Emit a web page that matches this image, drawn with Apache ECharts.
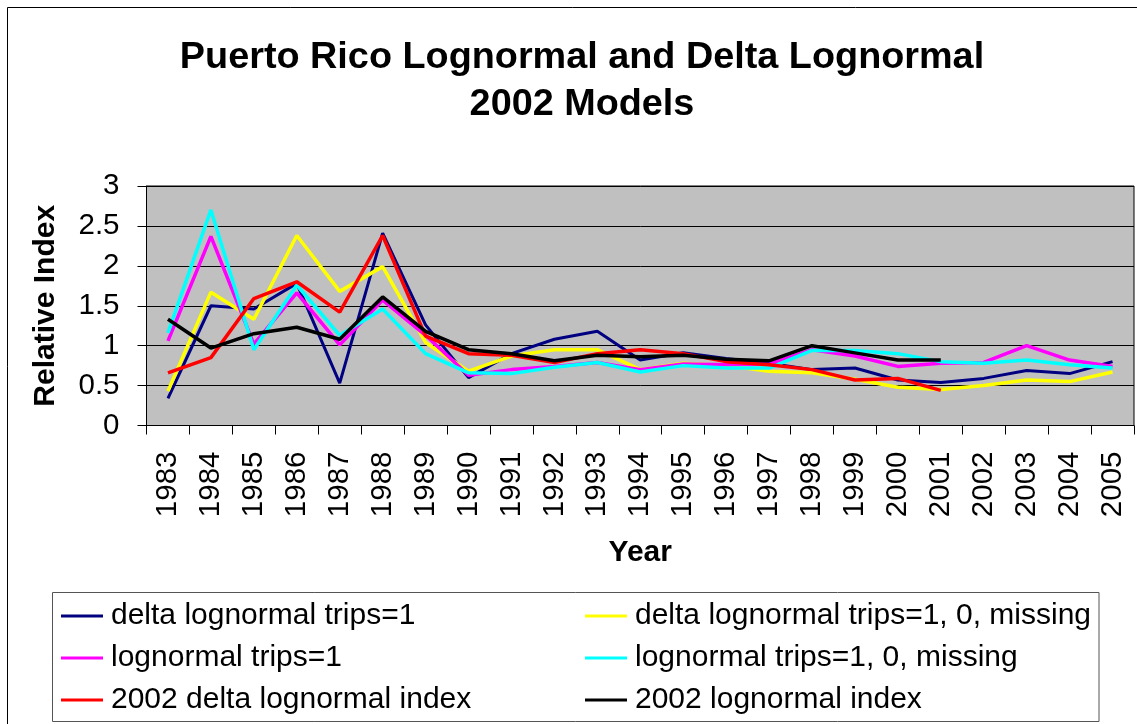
<!DOCTYPE html>
<html>
<head>
<meta charset="utf-8">
<script src="https://cdn.jsdelivr.net/npm/echarts@6/dist/echarts.min.js"></script>
<style>
html,body{margin:0;padding:0;background:#fff;}
#chart{width:1137px;height:724px;}
</style>
</head>
<body>
<div id="chart"></div>
<script>
var years = ['1983','1984','1985','1986','1987','1988','1989','1990','1991','1992','1993','1994','1995','1996','1997','1998','1999','2000','2001','2002','2003','2004','2005'];
var yTicks = [0, 0.5, 1, 1.5, 2, 2.5, 3];

var deltaTrips1 = [0.34,1.50,1.46,1.78,0.53,2.41,1.26,0.60,0.90,1.08,1.18,0.82,0.91,0.84,0.78,0.70,0.72,0.57,0.54,0.59,0.69,0.65,0.80];
var deltaTripsAll = [0.43,1.67,1.33,2.38,1.68,1.99,1.04,0.68,0.87,0.95,0.95,0.70,0.78,0.75,0.68,0.66,0.58,0.48,0.45,0.50,0.57,0.55,0.67];
var lognTrips1 = [1.06,2.37,1.02,1.66,1.01,1.57,1.13,0.63,0.70,0.74,0.79,0.70,0.77,0.76,0.77,0.95,0.87,0.74,0.78,0.79,1.00,0.82,0.74];
var lognTripsAll = [1.16,2.70,0.95,1.76,1.13,1.46,0.90,0.66,0.65,0.73,0.79,0.67,0.75,0.72,0.72,0.94,0.94,0.90,0.80,0.78,0.82,0.76,0.72];
var delta2002 = [0.66,0.85,1.59,1.80,1.42,2.38,1.12,0.90,0.88,0.79,0.90,0.95,0.90,0.80,0.76,0.70,0.57,0.59,0.44,null,null,null,null];
var logn2002 = [1.33,0.97,1.15,1.23,1.08,1.61,1.18,0.95,0.90,0.81,0.88,0.86,0.88,0.83,0.81,1.00,0.91,0.82,0.82,null,null,null,null];

var names = ['delta lognormal trips=1','delta lognormal trips=1, 0, missing','lognormal trips=1','lognormal trips=1, 0, missing','2002 delta lognormal index','2002 lognormal index'];
var colors = ['#000080','#FFFF00','#FF00FF','#00FFFF','#FF0000','#000000'];
var seriesData = [deltaTrips1, deltaTripsAll, lognTrips1, lognTripsAll, delta2002, logn2002];

var FONT = '"Liberation Sans", Arial, sans-serif';

var series = seriesData.map(function(d, i){
  return {
    name: names[i],
    type: 'line',
    data: d,
    symbol: 'none',
    showSymbol: false,
    connectNulls: false,
    animation: false,
    lineStyle: {color: colors[i], width: i === 0 ? 3 : 3.5},
    itemStyle: {color: colors[i]}
  };
});

var legendText = {fontFamily: FONT, fontSize: 30, color: '#000', lineHeight: 30, padding: [0,0,0,3]};

var option = {
  animation: false,
  backgroundColor: '#fff',
  title: {
    text: 'Puerto Rico Lognormal and Delta Lognormal\n2002 Models',
    left: 577,
    textAlign: 'center',
    top: 29,
    textStyle: {fontFamily: FONT, fontSize: 37.8, fontWeight: 'bold', color: '#000', lineHeight: 47}
  },
  graphic: [
    {type: 'rect', shape: {x: 7.5, y: 7.5, width: 1200, height: 800}, style: {fill: 'none', stroke: '#000', lineWidth: 1}, silent: true},
    {type: 'rect', shape: {x: 52.5, y: 592.5, width: 1046.5, height: 129}, style: {fill: 'none', stroke: '#555', lineWidth: 1}, silent: true}
  ],
  legend: [
    {
      orient: 'vertical', left: 61, top: 601, padding: 0, itemGap: 12,
      itemWidth: 42, itemHeight: 3, icon: 'rect',
      data: [names[0], names[2], names[4]],
      textStyle: legendText
    },
    {
      orient: 'vertical', left: 585, top: 601, padding: 0, itemGap: 12,
      itemWidth: 42, itemHeight: 3, icon: 'rect',
      data: [names[1], names[3], names[5]],
      textStyle: legendText
    }
  ],
  grid: {
    left: 146.5, top: 186, width: 987.5, height: 239.5,
    show: true, backgroundColor: '#C0C0C0', borderColor: '#000', borderWidth: 1
  },
  xAxis: {
    type: 'category',
    data: years,
    boundaryGap: true,
    name: 'Year',
    nameLocation: 'middle',
    nameGap: 112,
    nameTextStyle: {fontFamily: FONT, fontSize: 30, fontWeight: 'bold', color: '#000'},
    axisLine: {show: true, lineStyle: {color: '#000', width: 1}},
    axisTick: {show: true, length: 9, lineStyle: {color: '#000'}},
    axisLabel: {rotate: 90, margin: 26, interval: 0, fontFamily: FONT, fontSize: 29.5, color: '#000'},
    splitLine: {show: false}
  },
  yAxis: {
    type: 'value',
    min: 0, max: 3, interval: 0.5,
    name: 'Relative Index',
    nameLocation: 'middle',
    nameGap: 86,
    nameTextStyle: {fontFamily: FONT, fontSize: 30, fontWeight: 'bold', color: '#000'},
    axisLine: {show: true, lineStyle: {color: '#000', width: 1}},
    axisTick: {show: true, length: 9, lineStyle: {color: '#000'}},
    axisLabel: {margin: 27, fontFamily: FONT, fontSize: 29.5, color: '#000',
      formatter: function(v){ return yTicks.indexOf(v) >= 0 ? String(v) : ''; }},
    splitLine: {show: true, lineStyle: {color: '#000', width: 1}}
  },
  series: series
};

var chart = echarts.init(document.getElementById('chart'), null, {renderer: 'canvas'});
chart.setOption(option);
</script>
</body>
</html>
